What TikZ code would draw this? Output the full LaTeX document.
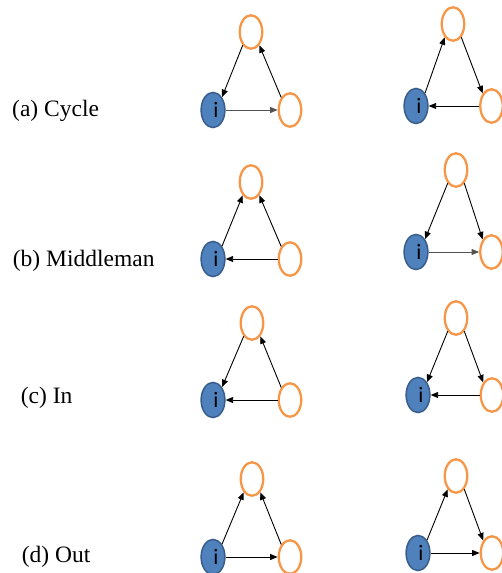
\documentclass[tikz,border=0pt]{standalone}
\usepackage{fontspec}
\setmainfont{Liberation Serif}
\newfontfamily\nodefont{Carlito}
\usetikzlibrary{arrows.meta,shapes.geometric}
\definecolor{nodeorange}{HTML}{F79646}
\definecolor{nodeblue}{HTML}{4F81BD}
\definecolor{nodeblueedge}{HTML}{385D8A}
\tikzset{
  other/.style={ellipse, draw=nodeorange, line width=2.3pt,
    minimum width=22.5pt, minimum height=33.5pt, inner sep=0pt},
  self/.style={ellipse, draw=nodeblueedge, fill=nodeblue, line width=1.5pt,
    minimum width=23.8pt, minimum height=35.2pt, inner sep=0pt,
    font=\nodefont\fontsize{22}{22}\selectfont},
  link/.style={line width=0.9pt, -{Triangle[length=7.5pt,width=6pt]}},
  paler/.style={draw=black!68},
  caption/.style={anchor=base west, inner sep=0pt,
    font=\fontsize{23.5}{28}\selectfont}
}
% three-node motif: #1 name prefix, #2 top node, #3 node i, #4 right node
\newcommand\trio[4]{%
  \node[other] (#1t) at (#2) {};
  \node[self] (#1i) at (#3) {\hspace*{6pt}i};
  \node[other] (#1r) at (#4) {};
}
\begin{document}
\begin{tikzpicture}[x=1pt,y=-1pt]
  \useasboundingbox (0,0) rectangle (501,573);

  % captions
  \node[caption] (capa) at (12,116.7) {(a) Cycle};
  \node[caption] (capb) at (12.7,266.7) {(b) Middleman};
  \node[caption] (capc) at (20.7,403.3) {(c) In};
  \node[caption] (capd) at (21.7,562.3) {(d) Out};

  % (a) cycle
  \trio{aL}{251,32}{213,110}{290,110}
  \draw[link] (aLt.238) -- (aLi.55);
  \draw[link,paler] (aLi.east) -- (aLr.west);
  \draw[link] (aLr.125) -- (aLt.302);

  \trio{aR}{453,24}{416,106}{491.5,106}
  \draw[link] (aRi.55) -- (aRt.238);
  \draw[link] (aRt.302) -- (aRr.125);
  \draw[link] (aRr.west) -- (aRi.east);

  % (b) middleman
  \trio{bL}{251,182}{213,259}{290,259}
  \draw[link] (bLi.55) -- (bLt.238);
  \draw[link] (bLr.125) -- (bLt.302);
  \draw[link] (bLr.west) -- (bLi.east);

  \trio{bR}{456,170}{416,252}{491.5,252}
  \draw[link] (bRt.238) -- (bRi.55);
  \draw[link] (bRt.302) -- (bRr.125);
  \draw[link,paler] (bRi.east) -- (bRr.west);

  % (c) in
  \trio{cL}{252,323}{213,400}{290,400}
  \draw[link] (cLt.238) -- (cLi.55);
  \draw[link] (cLr.125) -- (cLt.302);
  \draw[link] (cLr.west) -- (cLi.east);

  \trio{cR}{456,318}{418,395}{492,395}
  \draw[link] (cRt.238) -- (cRi.55);
  \draw[link] (cRt.302) -- (cRr.125);
  \draw[link] (cRr.west) -- (cRi.east);

  % (d) out
  \trio{dL}{252,479}{213,557}{290,557}
  \draw[link] (dLi.55) -- (dLt.238);
  \draw[link] (dLr.125) -- (dLt.302);
  \draw[link] (dLi.east) -- (dLr.west);

  \trio{dR}{456,476}{418,553}{492,553}
  \draw[link] (dRi.55) -- (dRt.238);
  \draw[link] (dRt.302) -- (dRr.125);
  \draw[link] (dRi.east) -- (dRr.west);
\end{tikzpicture}
\end{document}
